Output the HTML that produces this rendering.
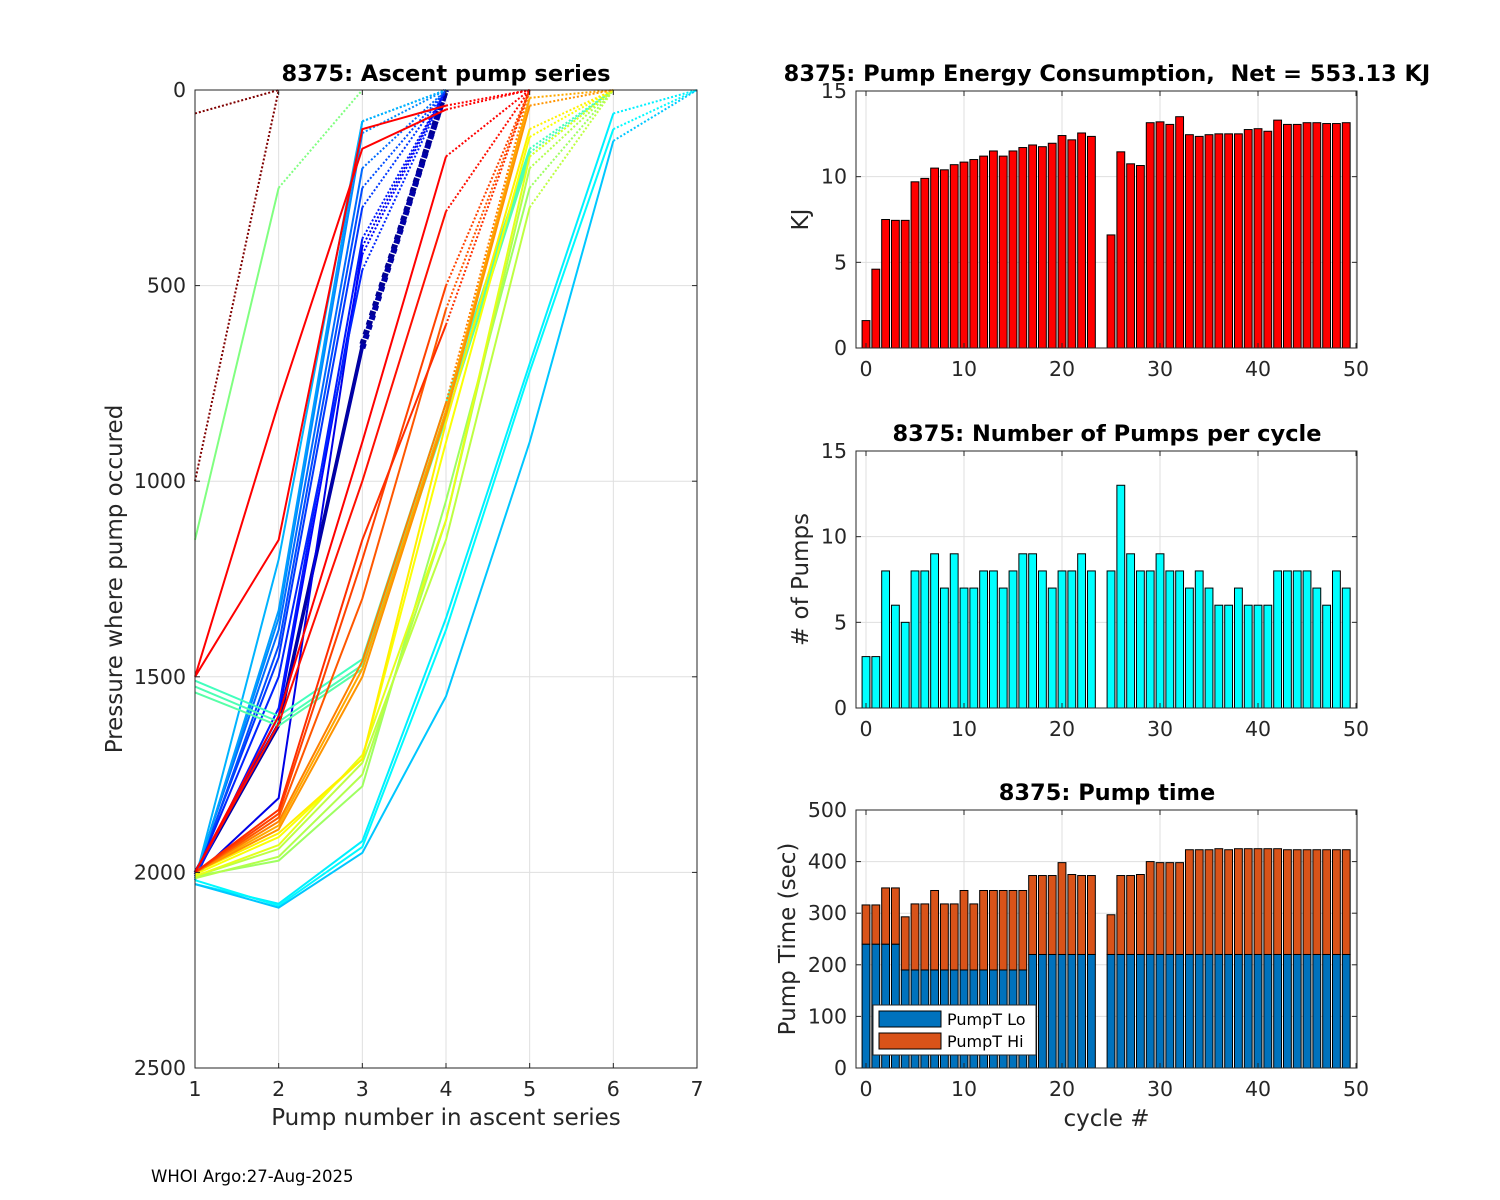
<!DOCTYPE html>
<html><head><meta charset="utf-8">
<style>
html,body{margin:0;padding:0;background:#fff;}
svg{display:block;font-family:"DejaVu Sans","Liberation Sans",sans-serif;}
</style></head>
<body>
<svg id="fig" width="1500" height="1200" viewBox="0 0 1500 1200" xmlns="http://www.w3.org/2000/svg">
<rect x="0" y="0" width="1500" height="1200" fill="#fff"/>
<text x="151" y="1182" font-size="16.5" fill="#000">WHOI Argo:27-Aug-2025</text>
</svg>
<script>
// ---------- DATA ----------
const energyCycles = [0,1,2,3,4,5,6,7,8,9,10,11,12,13,14,15,16,17,18,19,20,21,22,23,25,26,27,28,29,30,31,32,33,34,35,36,37,38,39,40,41,42,43,44,45,46,47,48,49];
const energyKJ = [1.6,4.6,7.5,7.45,7.45,9.7,9.9,10.5,10.4,10.7,10.85,11.0,11.2,11.5,11.2,11.5,11.7,11.85,11.75,11.95,12.4,12.15,12.55,12.35,6.6,11.45,10.75,10.65,13.15,13.2,13.05,13.5,12.45,12.35,12.45,12.5,12.5,12.5,12.75,12.8,12.65,13.3,13.05,13.05,13.15,13.15,13.1,13.1,13.15,12.95];
const pumpCounts = [3,3,8,6,5,8,8,9,7,9,7,7,8,8,7,8,9,9,8,7,8,8,9,8,8,13,9,8,8,9,8,8,7,8,7,6,6,7,6,6,6,8,8,8,8,7,6,8,7];
const pumpLo = [240,240,240,240,190,190,190,190,190,190,190,190,190,190,190,190,190,220,220,220,220,220,220,220,220,220,220,220,220,220,220,220,220,220,220,220,220,220,220,220,220,220,220,220,220,220,220,220,220];
const pumpTotal = [316,316,349,349,293,318,318,344,318,318,344,318,344,344,344,344,344,373,373,373,398,375,373,373,297,373,373,375,400,398,398,398,423,423,423,425,423,425,425,425,425,425,423,423,423,423,423,423,423,425];
// ascent pump series profiles: pressures at pump 1..n (last = surface 0)
const profilePressures = [
 [2000,1620,650,0],[2005,1625,660,0],[2010,1810,400,0],[2010,1600,420,0],[2015,1580,380,0],
 [2010,1450,300,0],[2020,1420,250,0],[2010,1380,200,0],[2015,1350,110,0],[2020,1330,80,0],
 [2010,1500,460,0],[2020,1200,80,0],
 [2030,2080,1920,1350,700,60,0],[2020,2085,1935,1380,720,100,0],[2030,2090,1950,1550,900,130,0],
 [1510,1600,1455,800,150,0],[1525,1615,1470,820,160,0],[1540,1625,1480,840,170,0],
 [2010,1970,1780,1050,250,0],[2015,1960,1750,1100,200,0],[2010,1940,1720,1150,300,0],
 [1150,250,0],
 [2010,1930,1700,1100,170,0],[2005,1910,1710,900,120,0],[2000,1900,1710,850,100,0],
 [2000,1880,1480,820,20,0],[2000,1890,1500,830,40,0],[2000,1870,1460,800,0],
 [2000,1860,1300,560,0],[2000,1850,1200,500,0],[2000,1840,1150,600,0],
 [2000,1620,1000,310,0],[2000,1600,900,170,0],[1500,800,150,50,0],[1500,1150,100,40,0],
 [1000,0],[60,0]
];
const profileColorT = [0.02,0.04,0.1,0.13,0.15,0.18,0.2,0.23,0.26,0.28,0.16,0.3,
 0.36,0.37,0.32,0.44,0.45,0.46,0.53,0.55,0.56,0.5,0.6,0.62,0.64,0.71,0.73,0.75,0.79,0.81,0.83,0.86,0.875,0.875,0.875,1.0,1.0];
const profileDotted = [1,1,1,1,1,1,1,1,1,1,1,1,1,1,1,1,1,1,1,1,1,1,1,1,1,1,1,1,1,1,1,1,1,1,1,1,1];

// ---------- HELPERS ----------
const NS='http://www.w3.org/2000/svg';
const svg=document.getElementById('fig');
function mk(tag,attrs,parent){const e=document.createElementNS(NS,tag);for(const k in attrs)e.setAttribute(k,attrs[k]);(parent||svg).appendChild(e);return e;}
const cl=v=>Math.min(1,Math.max(0,v));
function jet(t){const r=cl(1.5-Math.abs(4*t-3)),g=cl(1.5-Math.abs(4*t-2)),b=cl(1.5-Math.abs(4*t-1));return `rgb(${Math.round(r*255)},${Math.round(g*255)},${Math.round(b*255)})`;}
const TXT='#262626';
const TICK=20.5, LAB=23, TIT=22.5;

// ---------- LEFT CHART ----------
const L={x0:195,x1:697,y0:90,y1:1068,xmin:1,xmax:7,ymin:0,ymax:2500};
const lx=v=>L.x0+(v-L.xmin)/(L.xmax-L.xmin)*(L.x1-L.x0);
const ly=v=>L.y0+(v-L.ymin)/(L.ymax-L.ymin)*(L.y1-L.y0);
const lg=mk('g',{});


for(let i=1;i<=7;i++){const l=mk('line',{x1:lx(i),x2:lx(i),y1:L.y0,y2:L.y1,stroke:'#dfdfdf','stroke-width':1},lg);}
for(let v=0;v<=2500;v+=500){const l=mk('line',{x1:L.x0,x2:L.x1,y1:ly(v),y2:ly(v),stroke:'#dfdfdf','stroke-width':1},lg);}
profilePressures.forEach((p,i)=>{
  const col=jet(profileColorT[i]);const nd=profileDotted[i];const nseg=p.length-1;
  const g=mk('g',{},lg);
  
  
  const solid=[];for(let k=0;k<=nseg-nd;k++)solid.push(lx(k+1)+','+ly(p[k]));
  if(solid.length>1)mk('polyline',{points:solid.join(' '),fill:'none',stroke:col,'stroke-width':i<2?3:2},g);
  const dot=[];for(let k=nseg-nd;k<=nseg;k++)dot.push(lx(k+1)+','+ly(p[k]));
  mk('polyline',{points:dot.join(' '),fill:'none',stroke:col,'stroke-width':i<2?6:2,'stroke-dasharray':i<2?'5 5':'2 2'},g);
});
mk('rect',{x:L.x0,y:L.y0,width:L.x1-L.x0,height:L.y1-L.y0,fill:'none',stroke:'#262626','stroke-width':1},lg);
for(let i=1;i<=7;i++){
  mk('line',{x1:lx(i),x2:lx(i),y1:L.y1,y2:L.y1-5,stroke:'#262626'},lg);mk('line',{x1:lx(i),x2:lx(i),y1:L.y0,y2:L.y0+5,stroke:'#262626'},lg);
  const t=mk('text',{x:lx(i),y:L.y1+28,'font-size':TICK,'text-anchor':'middle',fill:TXT},lg);t.textContent=i;
  
}
for(let v=0;v<=2500;v+=500){
  mk('line',{x1:L.x0,x2:L.x0+5,y1:ly(v),y2:ly(v),stroke:'#262626'},lg);mk('line',{x1:L.x1,x2:L.x1-5,y1:ly(v),y2:ly(v),stroke:'#262626'},lg);
  const t=mk('text',{x:L.x0-9,y:ly(v)+7,'font-size':TICK,'text-anchor':'end',fill:TXT},lg);t.textContent=v;
  
}
let t;
t=mk('text',{x:446,y:81,'font-size':TIT,'font-weight':'bold','text-anchor':'middle',fill:'#000'},lg);t.textContent='8375: Ascent pump series';

t=mk('text',{x:446,y:1125,'font-size':LAB,'text-anchor':'middle',fill:TXT},lg);t.textContent='Pump number in ascent series';

t=mk('text',{x:0,y:0,'font-size':LAB,'text-anchor':'middle',fill:TXT,transform:'translate(122,579) rotate(-90)'},lg);t.textContent='Pressure where pump occured';


// ---------- RIGHT CHARTS ----------
const RX0=856,RX1=1357,XMIN=-1.02,XMAX=50.1;
const rx=v=>RX0+(v-XMIN)/(XMAX-XMIN)*(RX1-RX0);
const BW=0.8*(RX1-RX0)/(XMAX-XMIN);
function axesFrame(g,y0,y1,ymax,yticks){
  const ry=v=>y1-(v/ymax)*(y1-y0);
  for(let v=0;v<=50;v+=10)mk('line',{x1:rx(v),x2:rx(v),y1:y0,y2:y1,stroke:'#dfdfdf'},g);
  yticks.forEach(v=>mk('line',{x1:RX0,x2:RX1,y1:ry(v),y2:ry(v),stroke:'#dfdfdf'},g));
  return ry;
}
function axesDecor(g,y0,y1,ry,yticks,ylab,title,xlab,ylabX,titleX){
  mk('rect',{x:RX0,y:y0,width:RX1-RX0,height:y1-y0,fill:'none',stroke:'#262626'},g);
  for(let v=0;v<=50;v+=10){
    mk('line',{x1:rx(v),x2:rx(v),y1:y1,y2:y1-5,stroke:'#262626'},g);mk('line',{x1:rx(v),x2:rx(v),y1:y0,y2:y0+5,stroke:'#262626'},g);
    const t=mk('text',{x:rx(v),y:y1+28,'font-size':TICK,'text-anchor':'middle',fill:TXT},g);t.textContent=v;
    
  }
  yticks.forEach(v=>{
    mk('line',{x1:RX0,x2:RX0+5,y1:ry(v),y2:ry(v),stroke:'#262626'},g);mk('line',{x1:RX1,x2:RX1-5,y1:ry(v),y2:ry(v),stroke:'#262626'},g);
    const t=mk('text',{x:RX0-9,y:ry(v)+7,'font-size':TICK,'text-anchor':'end',fill:TXT},g);t.textContent=v;
    
  });
  let t=mk('text',{x:titleX,y:y0-10,'font-size':TIT,'font-weight':'bold','text-anchor':'middle',fill:'#000'},g);t.textContent=title;
  t.setAttribute('xml:space','preserve');t.style.whiteSpace='pre';
  
  t=mk('text',{x:0,y:0,'font-size':LAB,'text-anchor':'middle',fill:TXT,transform:`translate(${ylabX},${(y0+y1)/2}) rotate(-90)`},g);t.textContent=ylab;
  
  if(xlab){t=mk('text',{x:(RX0+RX1)/2,y:y1+58,'font-size':LAB,'text-anchor':'middle',fill:TXT},g);t.textContent=xlab;
  }
}
// Energy
{
  const g=mk('g',{});
  const yt=[0,5,10,15];const ry=axesFrame(g,91,348,15,yt);
  energyCycles.forEach((c,i)=>{const b=mk('rect',{x:rx(c)-BW/2,y:ry(energyKJ[i]),width:BW,height:ry(0)-ry(energyKJ[i]),fill:'#ff0000',stroke:'#000','stroke-width':1},g);
    });
  axesDecor(g,91,348,ry,yt,'KJ','8375: Pump Energy Consumption,  Net = 553.13 KJ',null,808,1107);
}
// Pump counts
{
  const g=mk('g',{});
  const yt=[0,5,10,15];const ry=axesFrame(g,451,708,15,yt);
  energyCycles.forEach((c,i)=>{const b=mk('rect',{x:rx(c)-BW/2,y:ry(pumpCounts[i]),width:BW,height:ry(0)-ry(pumpCounts[i]),fill:'#00ffff',stroke:'#000','stroke-width':1},g);
    });
  axesDecor(g,451,708,ry,yt,'# of Pumps','8375: Number of Pumps per cycle',null,808,1107);
}
// Pump time
{
  const g=mk('g',{});
  const yt=[0,100,200,300,400,500];const ry=axesFrame(g,810,1068,500,yt);
  energyCycles.forEach((c,i)=>{
    const lo=pumpLo[i],tot=pumpTotal[i];
    const b1=mk('rect',{x:rx(c)-BW/2,y:ry(lo),width:BW,height:ry(0)-ry(lo),fill:'#0072bd',stroke:'#000','stroke-width':1},g);
    
    const b2=mk('rect',{x:rx(c)-BW/2,y:ry(tot),width:BW,height:ry(lo)-ry(tot),fill:'#d95319',stroke:'#000','stroke-width':1},g);
    
  });
  axesDecor(g,810,1068,ry,yt,'Pump Time (sec)','8375: Pump time','cycle #',795,1107);
  const lgd=mk('g',{},g);
  mk('rect',{x:873,y:1005,width:163,height:50,fill:'#fff',stroke:'#262626'},lgd);
  mk('rect',{x:879,y:1011,width:62,height:16,fill:'#0072bd',stroke:'#000'},lgd);
  mk('rect',{x:879,y:1033,width:62,height:16,fill:'#d95319',stroke:'#000'},lgd);
  let t=mk('text',{x:947,y:1025,'font-size':16,fill:'#000'},lgd);t.textContent='PumpT Lo';
  
  t=mk('text',{x:947,y:1047,'font-size':16,fill:'#000'},lgd);t.textContent='PumpT Hi';
  
}
</script>
</body></html>
